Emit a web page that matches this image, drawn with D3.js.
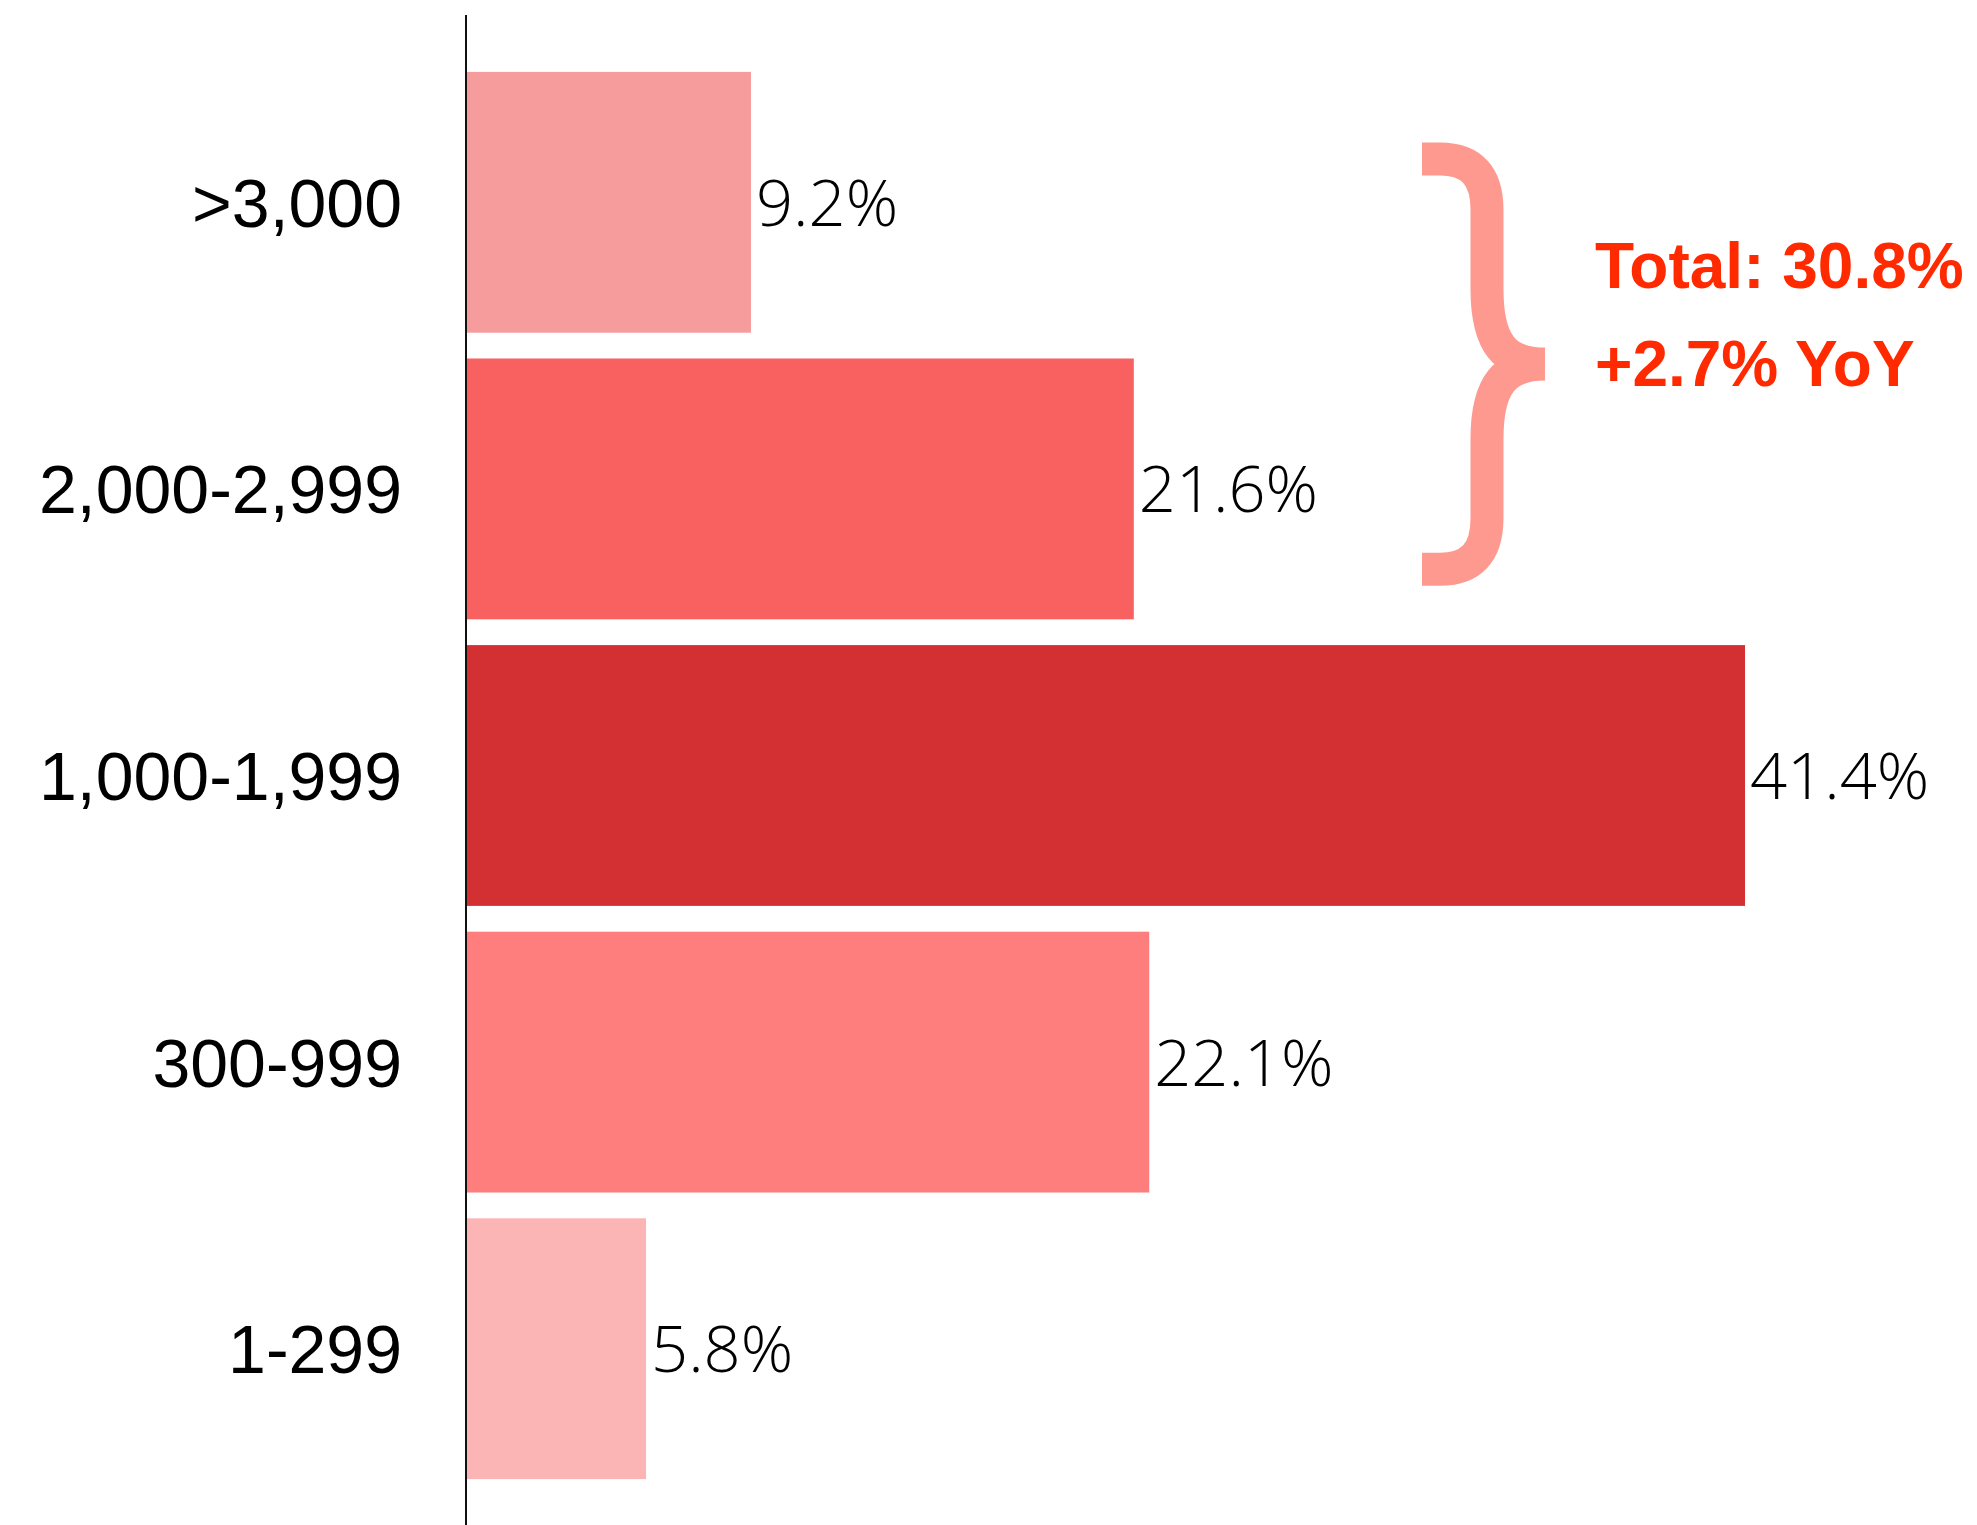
<!DOCTYPE html>
<html>
<head>
<meta charset="utf-8">
<script src="https://cdn.jsdelivr.net/npm/d3@7"></script>
<style>
  body { margin: 0; background: #fff; }
</style>
</head>
<body>
<div id="chart"></div>
<script>
// data
const categories = [">3,000", "2,000-2,999", "1,000-1,999", "300-999", "1-299"];
const shares = [9.2, 21.6, 41.4, 22.1, 5.8];
const barColors = ["#F79C9D", "#F96161", "#D33034", "#FE7E7E", "#FBB5B5"];
const totalLines = ["Total: 30.8%", "+2.7% YoY"];

let width = 1977;
let height = 1525;
let axisX = 466;

let svg = d3.select("#chart")
  .append("svg")
    .attr("width", width)
    .attr("height", height)
    .style("background", "#fff");

let x = d3.scaleLinear()
    .domain([0, 45])
    .range([axisX + 1, axisX + 1 + 45 * 30.87]);

let y = d3.scaleBand()
    .domain(categories)
    .range([59, 1492])
    .paddingInner(0.09)
    .paddingOuter(0.045);

// bars
svg.selectAll(".bar")
  .data(shares)
  .enter().append("rect")
    .attr("class", "bar")
    .attr("x", x(0))
    .attr("y", (d, i) => y(categories[i]))
    .attr("width", d => x(d) - x(0))
    .attr("height", y.bandwidth())
    .attr("fill", (d, i) => barColors[i]);

// category labels
svg.selectAll(".cat")
  .data(categories)
  .enter().append("text")
    .attr("class", "cat")
    .attr("x", axisX - 64)
    .attr("y", d => y(d) + y.bandwidth() / 2)
    .attr("dy", "0.36em")
    .attr("text-anchor", "end")
    .style("font-family", "'Liberation Sans', Arial, sans-serif")
    .style("font-size", "68px")
    .style("fill", "#000")
    .text(d => d);

// value labels
svg.selectAll(".val")
  .data(shares)
  .enter().append("text")
    .attr("class", "val")
    .attr("x", d => x(d) + 5)
    .attr("y", (d, i) => y(categories[i]) + y.bandwidth() / 2)
    .attr("dy", "0.36em")
    .style("font-family", "'Open Sans', 'Liberation Sans', sans-serif")
    .style("font-weight", 300)
    .style("font-size", "65px")
    .style("fill", "#000")
    .text(d => d.toFixed(1) + "%");

// axis line
svg.append("line")
    .attr("x1", axisX)
    .attr("x2", axisX)
    .attr("y1", 15)
    .attr("y2", height)
    .attr("stroke", "#111")
    .attr("stroke-width", 2);

// brace over the two top groups
let braceTop = y(categories[0]) + 87;
let braceBot = y(categories[1]) + y.bandwidth() - 50;
let mid = (braceTop + braceBot) / 2;
let bx = 1487;
svg.append("path")
    .attr("d",
      "M1422," + braceTop + " L1440," + braceTop +
      " Q" + bx + "," + braceTop + " " + bx + "," + (braceTop + 51) +
      " L" + bx + "," + (mid - 75) +
      " C" + bx + "," + (mid - 20) + " 1505," + mid + " 1545," + mid +
      " C1505," + mid + " " + bx + "," + (mid + 20) + " " + bx + "," + (mid + 75) +
      " L" + bx + "," + (braceBot - 51) +
      " Q" + bx + "," + braceBot + " 1440," + braceBot +
      " L1422," + braceBot)
    .attr("fill", "none")
    .attr("stroke", "#FD998E")
    .attr("stroke-width", 33)
    .attr("stroke-linejoin", "miter");

svg.selectAll(".total")
  .data(totalLines)
  .enter().append("text")
    .attr("class", "total")
    .attr("x", 1595)
    .attr("y", (d, i) => 288 + i * 98)
    .style("font-family", "'Liberation Sans', Arial, sans-serif")
    .style("font-weight", "bold")
    .style("font-size", "64px")
    .style("fill", "#FF2A00")
    .text(d => d);
</script>
</body>
</html>
